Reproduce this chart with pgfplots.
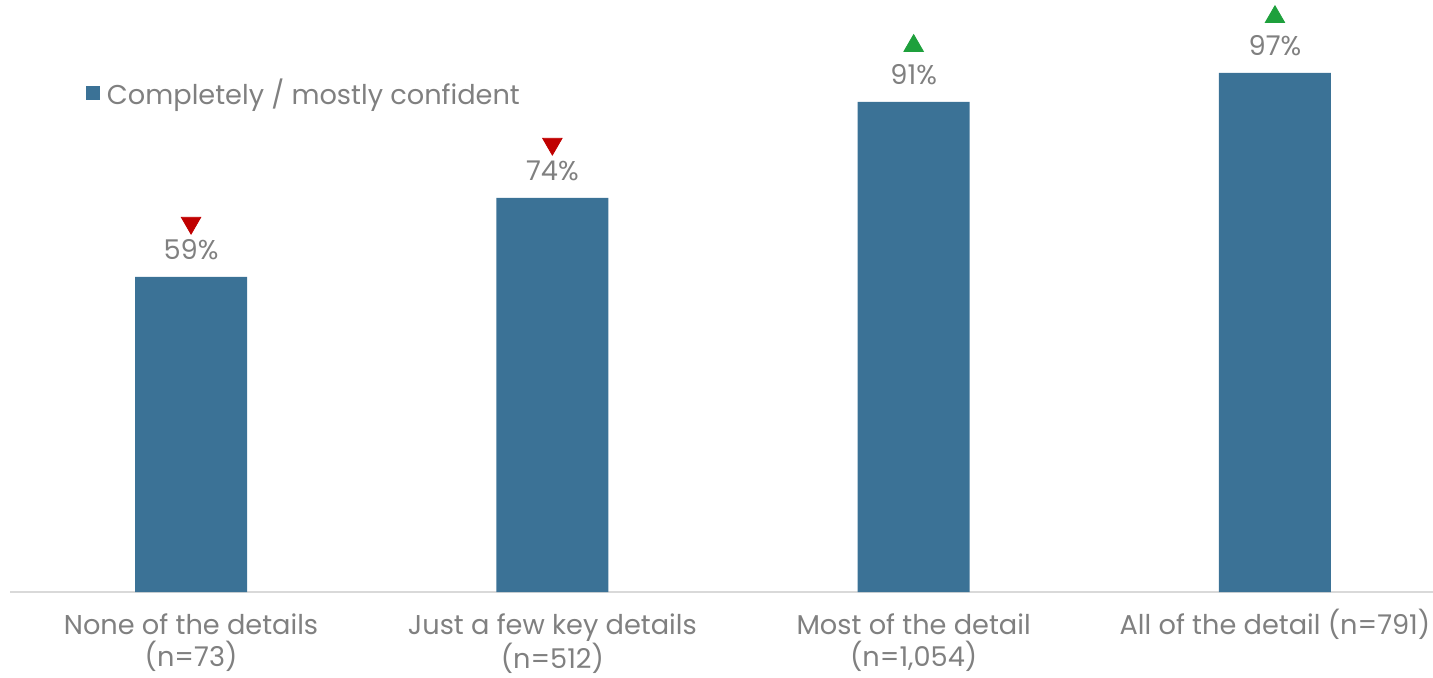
\documentclass[border=0pt]{standalone}
\usepackage{pgfplots}
\pgfplotsset{compat=1.18}
\usepackage{fontspec}
\setmainfont{Poppins}
\definecolor{barcol}{RGB}{59,114,150}
\definecolor{txt}{RGB}{128,128,128}
\definecolor{dn}{RGB}{192,0,0}
\definecolor{up}{RGB}{30,160,60}
\definecolor{axl}{RGB}{217,217,217}
\begin{document}
\begin{tikzpicture}
\path[use as bounding box] (0,0) rectangle (716.5pt,338.5pt);
\begin{axis}[
  at={(5.2pt,42.5pt)}, anchor=south west,
  scale only axis, width=722.6pt, height=293.7pt,
  xmin=-0.5, xmax=3.5, ymin=0, ymax=110,
  axis y line=none,
  axis x line*=bottom,
  x axis line style={-, draw=axl, line width=1pt},
  xtick=data, xtick style={draw=none},
  xticklabels={{None of the details\vphantom{(}\\(n=73)},{Just a few key details\vphantom{(}\\(n=512)},{Most of the detail\vphantom{(}\\(n=1,054)},{All of the detail (n=791)}},
  xticklabel style={align=center, text=txt, font=\fontsize{13.6}{15}\selectfont, yshift=-5pt, anchor=north},
  ytick=\empty,
  legend style={at={(rel axis cs:0.052,0.85)}, anchor=west, draw=none, fill=none, inner sep=0pt,
    font=\fontsize{13.6}{15}\selectfont, text=txt, legend cell align=left},
  legend image code/.code={\fill[barcol] (0pt,-3.5pt) rectangle (7pt,3.5pt);\path (8.5pt,0pt);},
  clip=false,
]
\addplot[ybar, bar width=56pt, fill=barcol, draw=none,
  point meta=explicit symbolic,
  nodes near coords,
  every node near coord/.append style={text=txt, font=\fontsize{13.6}{15}\selectfont, yshift=5pt}]
  coordinates {(0,59) [59\%] (1,73.8) [74\%] (2,91.8) [91\%] (3,97.2) [97\%]};
\addlegendentry{Completely / mostly confident}
\addplot[only marks, mark=triangle*, mark size=5.6pt, color=dn, forget plot,
  mark options={fill=dn, draw=none, yshift=27pt, rotate=180}]
  coordinates {(0,59) (1,73.8)};
\addplot[only marks, mark=triangle*, mark size=5.6pt, color=up, forget plot,
  mark options={fill=up, draw=none, yshift=28pt}]
  coordinates {(2,91.8) (3,97.2)};
\end{axis}
\end{tikzpicture}
\end{document}
